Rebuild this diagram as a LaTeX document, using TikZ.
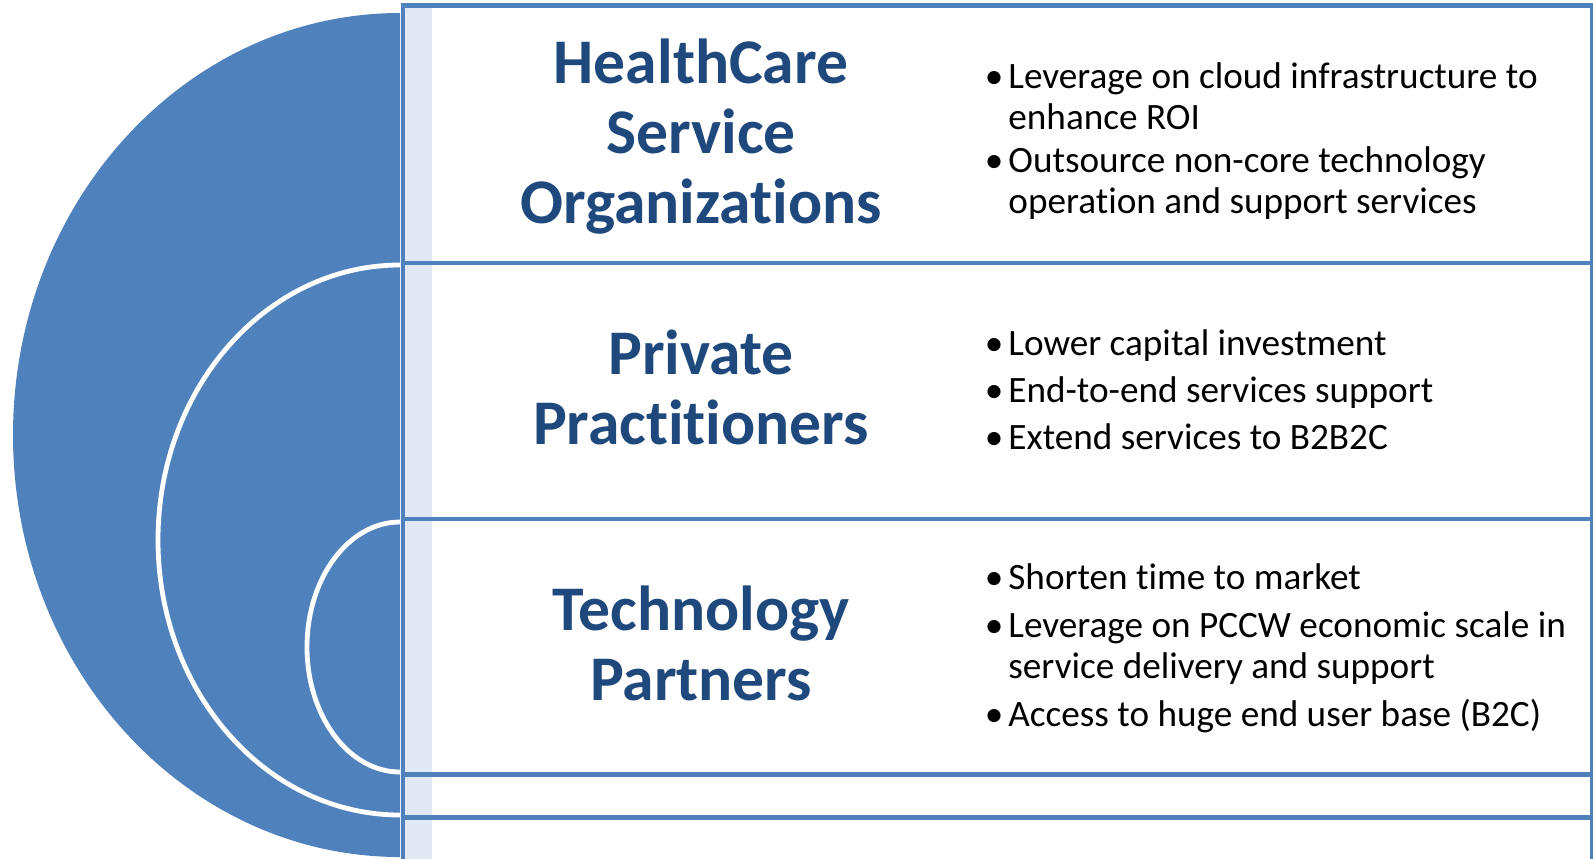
\documentclass[tikz,border=0pt]{standalone}
\usepackage{fontspec}
\setmainfont{Carlito}[Ligatures=NoCommon]
\definecolor{accent}{HTML}{4F81BD}
\definecolor{titleblue}{HTML}{1F497D}
\definecolor{stripblue}{HTML}{E1E9F4}
\newcommand{\itemdot}{\llap{\textbullet\kern2.5pt}}
\begin{document}
\begin{tikzpicture}[x=0.5pt,y=-0.5pt,
  rowbox/.style={draw=accent,line width=2.2pt,fill=white},
  strip/.style={fill=stripblue},
  ring/.style={draw=white,line width=2.4pt},
  heading/.style={font=\fontsize{31.8}{35}\selectfont\bfseries,text=titleblue,align=center,inner sep=0pt,anchor=base},
  bullets/.style={font=\fontsize{18.6}{20.5}\selectfont,align=left,anchor=base west,inner sep=0pt}]
  \useasboundingbox (0,0) rectangle (1593,858);
  \clip (0,0) rectangle (1593,858);
  \begin{scope}
    \clip (0,0) rectangle (400,858);
    \fill [accent] (400,435) ellipse [x radius=193.5pt, y radius=211pt];
    \draw [ring] (400,540) ellipse [x radius=121pt, y radius=137.5pt];
    \draw [ring] (400,647) ellipse [x radius=46.5pt, y radius=62.5pt];
  \end{scope}
  \foreach \ytop/\ybot in {5.5/263, 263/519, 519/774.5, 774.5/817.5, 817.5/880} {
    \draw [rowbox] (403,\ytop) rectangle (1592.5,\ybot);
    \fill [strip] (405.2,\ytop+2.2) rectangle (432,\ybot-2.2);
  }
  \node [heading] (hcso) at (701,223) {HealthCare\\Service\\Organizations};
  \node [heading] (pp) at (701,444) {Private\\Practitioners};
  \node [heading] (tp) at (701,700) {Technology\\Partners};
  \node [bullets] (hcso-a) at (1008,129) {\itemdot Leverage on cloud infrastructure to\\enhance ROI};
  \node [bullets] (hcso-b) at (1008,213) {\itemdot Outsource non-core technology\\operation and support services};
  \node [bullets] (pp-a) at (1008,355) {\itemdot Lower capital investment};
  \node [bullets] (pp-b) at (1008,402) {\itemdot End-to-end services support};
  \node [bullets] (pp-c) at (1008,449) {\itemdot Extend services to B2B2C};
  \node [bullets] (tp-a) at (1008,589) {\itemdot Shorten time to market};
  \node [bullets] (tp-b) at (1008,678) {\itemdot Leverage on PCCW economic scale in\\service delivery and support};
  \node [bullets] (tp-c) at (1008,726) {\itemdot Access to huge end user base (B2C)};
\end{tikzpicture}
\end{document}
